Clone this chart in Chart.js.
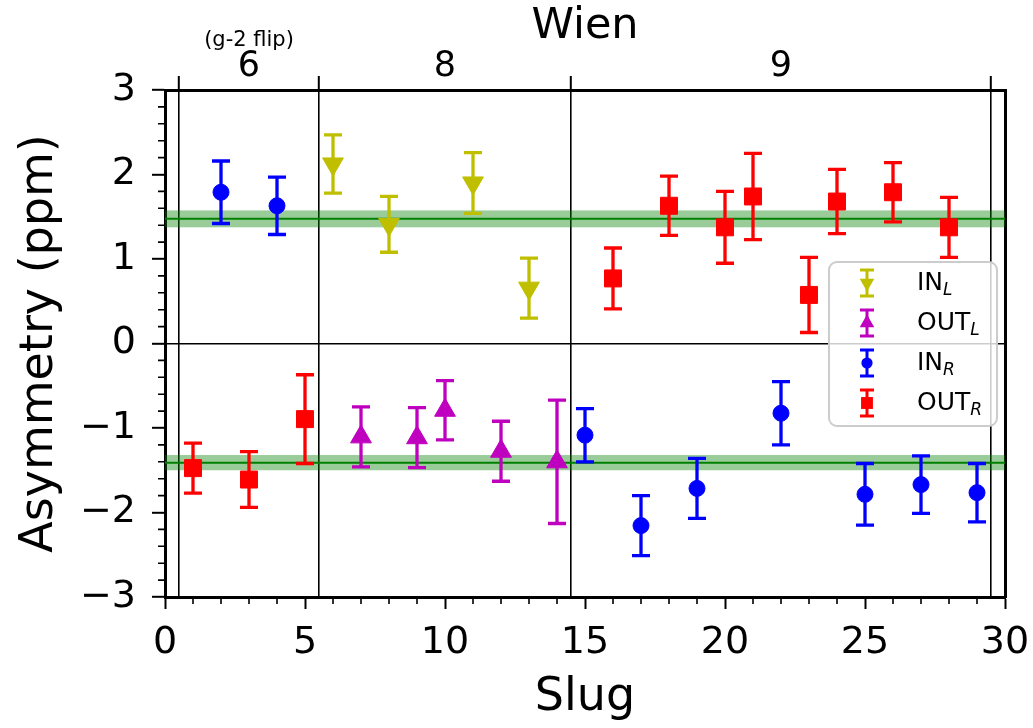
<!DOCTYPE html>
<html>
<head>
<meta charset="utf-8">
<title>Asymmetry vs Slug</title>
<script src="https://cdn.jsdelivr.net/npm/chart.js@4.4.1/dist/chart.umd.min.js"></script>
<style>
  html, body { margin: 0; padding: 0; background: #fff; }
  #wrap { width: 1033px; height: 728px; }
</style>
</head>
<body>
<div id="wrap"><canvas id="asymChart" width="1033" height="728"></canvas></div>
<script>
// ---- data ----
const inLSlugs  = [6, 8, 11, 13];
const inLVals   = [2.125, 1.41, 1.90, 0.655];
const inLErrs   = [0.345, 0.33, 0.36, 0.355];

const outLSlugs = [7, 9, 10, 12, 14];
const outLVals  = [-1.105, -1.115, -0.79, -1.275, -1.40];
const outLErrs  = [0.355, 0.355, 0.35, 0.355, 0.73];

const inRSlugs  = [2, 4, 15, 17, 19, 22, 25, 27, 29];
const inRVals   = [1.79, 1.63, -1.085, -2.155, -1.715, -0.825, -1.785, -1.67, -1.765];
const inRErrs   = [0.37, 0.34, 0.315, 0.355, 0.355, 0.375, 0.365, 0.34, 0.345];

const outRSlugs = [1, 3, 5, 16, 18, 20, 21, 23, 24, 26, 28];
const outRVals  = [-1.475, -1.61, -0.895, 0.77, 1.63, 1.375, 1.74, 0.575, 1.68, 1.79, 1.375];
const outRErrs  = [0.295, 0.33, 0.525, 0.36, 0.35, 0.425, 0.51, 0.445, 0.38, 0.35, 0.355];

// averages (green bands): mean and half width
const avgMeans = [1.475, -1.41];
const avgErrs  = [0.10, 0.09];

// Wien boundaries and labels (top axis)
const wienBounds = [0.5, 5.5, 14.5, 29.5];
const wienLabels = ['6', '8', '9'];
const wienNotes  = ['(g-2 flip)', '', ''];

const FONT = '"DejaVu Sans", "Liberation Sans", sans-serif';
Chart.defaults.font.family = FONT;
Chart.defaults.color = '#000';

const fmtTick = v => (v < 0 ? '\u2212' + Math.abs(v) : String(v));

function toPoints(xs, ys, es) {
    return xs.map((x, i) => ({ x: x, y: ys[i], err: es[i] }));
}

const series = [
    { base: 'IN',  sub: 'L', xs: inLSlugs,  ys: inLVals,  es: inLErrs,  color: 'rgb(191,191,0)', style: 'triangle', rotation: 180, radius: 12 },
    { base: 'OUT', sub: 'L', xs: outLSlugs, ys: outLVals, es: outLErrs, color: 'rgb(191,0,191)', style: 'triangle', rotation: 0,   radius: 12 },
    { base: 'IN',  sub: 'R', xs: inRSlugs,  ys: inRVals,  es: inRErrs,  color: 'rgb(0,0,255)',   style: 'circle',   rotation: 0,   radius: 8 },
    { base: 'OUT', sub: 'R', xs: outRSlugs, ys: outRVals, es: outRErrs, color: 'rgb(255,0,0)',   style: 'rect',     rotation: 0,   radius: 12 }
];

// bands + error bars under the markers
const errorBarPlugin = {
    id: 'errorBars',
    beforeDatasetsDraw(chart) {
        const { ctx, chartArea: a, scales: { x, y } } = chart;
        ctx.save();
        ctx.beginPath();
        ctx.rect(a.left, a.top, a.right - a.left, a.bottom - a.top);
        ctx.clip();

        // average bands
        avgMeans.forEach((m, i) => {
            const y1 = y.getPixelForValue(m + avgErrs[i]);
            const y2 = y.getPixelForValue(m - avgErrs[i]);
            ctx.fillStyle = 'rgba(0,128,0,0.4)';
            ctx.fillRect(a.left, y1, a.right - a.left, y2 - y1);
            ctx.strokeStyle = 'rgb(0,128,0)';
            ctx.lineWidth = 2;
            ctx.beginPath();
            const ym = y.getPixelForValue(m);
            ctx.moveTo(a.left, ym);
            ctx.lineTo(a.right, ym);
            ctx.stroke();
        });

        // error bars
        chart.data.datasets.forEach(ds => {
            ctx.strokeStyle = ds.backgroundColor;
            ctx.lineWidth = 3.3;
            ds.data.forEach(p => {
                const px = x.getPixelForValue(p.x);
                const yt = y.getPixelForValue(p.y + p.err);
                const yb = y.getPixelForValue(p.y - p.err);
                ctx.beginPath();
                ctx.moveTo(px, yt); ctx.lineTo(px, yb);
                ctx.moveTo(px - 9, yt); ctx.lineTo(px + 9, yt);
                ctx.moveTo(px - 9, yb); ctx.lineTo(px + 9, yb);
                ctx.stroke();
            });
        });
        ctx.restore();
    },
    afterDraw(chart) {
        const { ctx, chartArea: a, scales: { x, y } } = chart;
        ctx.save();
        ctx.strokeStyle = '#000';
        ctx.lineWidth = 1.6;

        // minor ticks
        ctx.beginPath();
        for (let v = x.min; v <= x.max; v++) {
            if (v % 5 === 0) continue;
            const px = x.getPixelForValue(v);
            ctx.moveTo(px, a.bottom);
            ctx.lineTo(px, a.bottom + 7);
        }
        for (let k = -15; k <= 15; k++) {
            if (k % 5 === 0) continue;
            const py = y.getPixelForValue(k / 5);
            ctx.moveTo(a.left, py);
            ctx.lineTo(a.left - 7, py);
        }
        ctx.stroke();

        // top labels: Wien numbers
        ctx.fillStyle = '#000';
        ctx.textAlign = 'center';
        ctx.textBaseline = 'middle';
        wienLabels.forEach((lbl, i) => {
            const mid = x.getPixelForValue((wienBounds[i] + wienBounds[i + 1]) / 2);
            ctx.font = '35px ' + FONT;
            ctx.fillText(lbl, mid, 67);
            if (wienNotes[i]) {
                ctx.font = '21px ' + FONT;
                ctx.fillText(wienNotes[i], mid, 41);
            }
        });
        ctx.font = '43px ' + FONT;
        ctx.fillText('Wien', (a.left + a.right) / 2, 27);

        // legend
        const lx = 829, ly = 262, lw = 168, lh = 164;
        ctx.fillStyle = 'rgba(255,255,255,0.8)';
        ctx.strokeStyle = 'rgb(204,204,204)';
        ctx.lineWidth = 2;
        ctx.beginPath();
        ctx.roundRect(lx, ly, lw, lh, 8);
        ctx.fill();
        ctx.stroke();

        series.forEach((s, i) => {
            const gy = 283 + i * 40;
            const gx = 867;
            ctx.strokeStyle = s.color;
            ctx.fillStyle = s.color;
            ctx.lineWidth = 3;
            ctx.beginPath();
            ctx.moveTo(gx, gy - 13); ctx.lineTo(gx, gy + 13);
            ctx.moveTo(gx - 7, gy - 13); ctx.lineTo(gx + 7, gy - 13);
            ctx.moveTo(gx - 7, gy + 13); ctx.lineTo(gx + 7, gy + 13);
            ctx.stroke();
            Chart.helpers.drawPoint(ctx, {
                pointStyle: s.style, rotation: s.rotation, radius: s.radius * 0.7, borderWidth: 0
            }, gx, gy);

            ctx.fillStyle = '#000';
            ctx.textAlign = 'left';
            ctx.textBaseline = 'middle';
            ctx.font = '25px ' + FONT;
            ctx.fillText(s.base, 917, gy);
            const w = ctx.measureText(s.base).width;
            ctx.font = 'italic 17px ' + FONT;
            ctx.fillText(s.sub, 917 + w, gy + 8);
        });
        ctx.restore();
    }
};

const noSidePad = scale => { scale.paddingLeft = 0; scale.paddingRight = 0; };

new Chart(document.getElementById('asymChart'), {
    type: 'scatter',
    data: {
        datasets: series.map(s => ({
            label: s.base + '_' + s.sub,
            data: toPoints(s.xs, s.ys, s.es),
            backgroundColor: s.color,
            borderColor: s.color,
            borderWidth: 1,
            pointStyle: s.style,
            rotation: s.rotation,
            pointRadius: s.radius,
            pointHoverRadius: s.radius
        }))
    },
    options: {
        responsive: false,
        animation: false,
        layout: { padding: 0 },
        plugins: {
            legend: { display: false },
            title: { display: false },
            tooltip: { enabled: false }
        },
        scales: {
            x: {
                type: 'linear',
                position: 'bottom',
                min: 0, max: 30,
                ticks: { stepSize: 5, font: { size: 38 }, padding: 11, maxRotation: 0 },
                grid: { drawOnChartArea: false, tickLength: 12, tickWidth: 2, tickColor: '#000' },
                border: { display: true, color: '#000', width: 3 },
                title: { display: true, text: 'Slug', font: { size: 46 }, padding: { top: 0, bottom: 2 } },
                afterFit: scale => { scale.height = 131; noSidePad(scale); }
            },
            xTop: {
                type: 'linear',
                position: 'top',
                min: 0, max: 30,
                afterBuildTicks: scale => { scale.ticks = wienBounds.map(v => ({ value: v })); },
                ticks: { display: false },
                grid: {
                    drawOnChartArea: true, color: '#000', lineWidth: 1.6,
                    tickLength: 14, tickWidth: 2, tickColor: '#000'
                },
                border: { display: true, color: '#000', width: 3 },
                afterFit: scale => { scale.height = 90; noSidePad(scale); }
            },
            y: {
                type: 'linear',
                position: 'left',
                min: -3, max: 3,
                ticks: { stepSize: 1, font: { size: 38 }, padding: 16, callback: fmtTick },
                grid: {
                    drawOnChartArea: true,
                    color: c => (c.tick && c.tick.value === 0 ? '#000' : 'rgba(0,0,0,0)'),
                    lineWidth: 1.6,
                    tickLength: 13, tickWidth: 2, tickColor: '#000'
                },
                border: { display: true, color: '#000', width: 3 },
                title: { display: true, text: 'Asymmetry (ppm)', font: { size: 46 }, padding: { top: 12, bottom: 0 } },
                afterFit: scale => { scale.width = 165; }
            },
            yRight: {
                type: 'linear',
                position: 'right',
                min: -3, max: 3,
                ticks: { display: false },
                grid: { drawOnChartArea: false, drawTicks: false },
                border: { display: true, color: '#000', width: 3 },
                afterFit: scale => { scale.width = 28; }
            }
        }
    },
    plugins: [errorBarPlugin]
});
</script>
</body>
</html>
